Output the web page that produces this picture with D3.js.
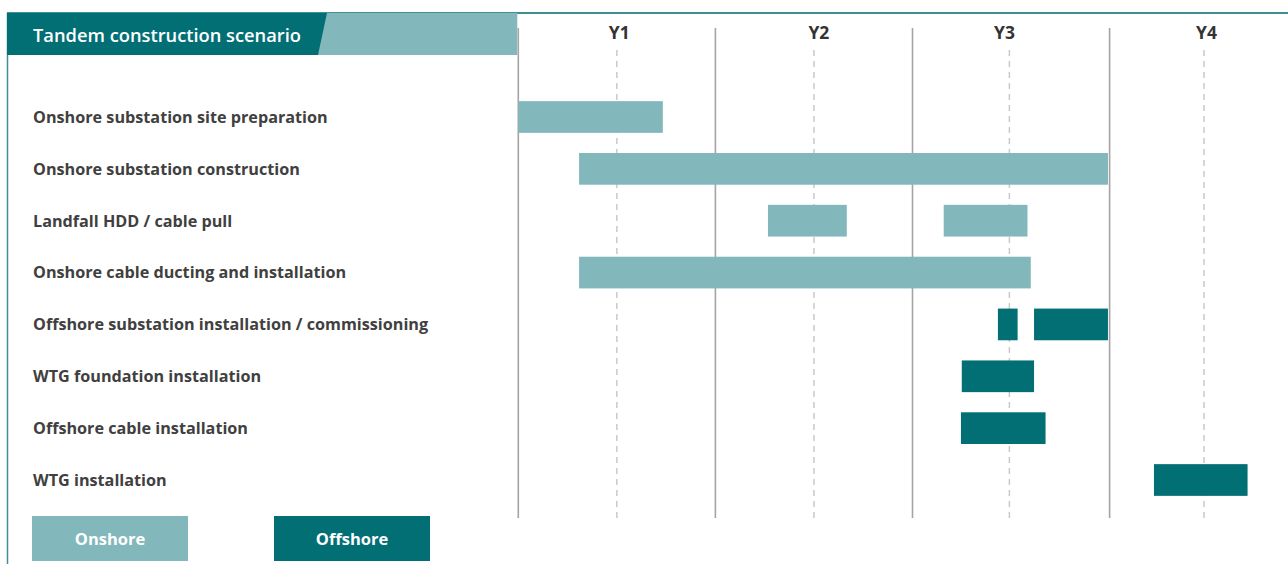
<!DOCTYPE html>
<html><head><meta charset="utf-8">
<script src="https://cdn.jsdelivr.net/npm/d3@7"></script>
<style>
html,body{margin:0;padding:0;background:#fff;}
svg{display:block;font-family:"Open Sans",Lato,sans-serif;}
</style></head>
<body><svg id="c" width="1288" height="564"></svg>
<script>
// ---- data (months from start of Y1) ----
const tasks = [
  "Onshore substation site preparation",
  "Onshore substation construction",
  "Landfall HDD / cable pull",
  "Onshore cable ducting and installation",
  "Offshore substation installation / commissioning",
  "WTG foundation installation",
  "Offshore cable installation",
  "WTG installation"
];
const types = ["Onshore","Onshore","Onshore","Onshore","Offshore","Offshore","Offshore","Offshore"];
const starts = [[0.0],[3.7],[15.2,25.9],[3.7],[29.2,31.4],[27.0],[26.95],[38.7]];
const ends   = [[8.8],[35.9],[20.0,31.0],[31.2],[30.4,35.9],[31.4],[32.1],[44.4]];
const yearLabels = ["Y1","Y2","Y3","Y4"];
const yearStarts = [0,12,24,36];
const yearLabelPos = [6.15,18.3,29.6,41.9];
const midMarks = [6.0,18.0,29.9,41.75];
const legendItems = ["Onshore","Offshore"];
const title = "Tandem construction scenario";

const colors = {Onshore:"#82b8bc", Offshore:"#016f74"};
const svg = d3.select("#c");
const x = d3.scaleLinear().domain([0,48]).range([518.3, 518.3+4*197.1]);
const y = d3.scalePoint().domain(tasks).range([117, 480]);
const barH = 31.7;

// top line & left border
svg.append("line").attr("x1",7).attr("x2",1288).attr("y1",13).attr("y2",13)
  .attr("stroke","#3f8f93").attr("stroke-width",2);
svg.append("line").attr("x1",7.5).attr("x2",7.5).attr("y1",13).attr("y2",564)
  .attr("stroke","#3f8f93").attr("stroke-width",1.5);

// header
svg.append("polygon").attr("points",`${x(0)-1},13 ${x(0)-1},55 316,55 326,13`).attr("fill",colors.Onshore);
svg.append("polygon").attr("points",`7,13 327,13 318,55 7,55`).attr("fill",colors.Offshore);
svg.append("text").attr("x",33).attr("y",41.5).attr("fill","#fff")
  .attr("font-size",18.3).attr("font-weight",600).text(title);

// year lines
svg.selectAll(".yl").data(yearStarts).enter().append("line")
  .attr("x1",d=>x(d)).attr("x2",d=>x(d)).attr("y1",28).attr("y2",518)
  .attr("stroke","#a8a1a5").attr("stroke-width",1.6);
svg.selectAll(".ml").data(midMarks).enter().append("line")
  .attr("x1",d=>x(d)).attr("x2",d=>x(d)).attr("y1",50).attr("y2",518)
  .attr("stroke","#c9c9c9").attr("stroke-width",1.5).attr("stroke-dasharray","6,5");
svg.selectAll(".ylab").data(yearLabels).enter().append("text")
  .attr("x",(d,i)=>x(yearLabelPos[i])).attr("y",38.5).attr("text-anchor","middle")
  .attr("fill","#333").attr("font-size",17.5).attr("font-weight",700).text(d=>d);

// bars
const segs = [];
tasks.forEach((t,i)=>starts[i].forEach((s,j)=>segs.push({t, type:types[i], s, e:ends[i][j]})));
svg.selectAll(".bar").data(segs).enter().append("rect")
  .attr("x",d=>x(d.s)).attr("width",d=>x(d.e)-x(d.s))
  .attr("y",d=>y(d.t)-barH/2).attr("height",barH)
  .attr("fill",d=>colors[d.type]);

// task labels
svg.selectAll(".tl").data(tasks).enter().append("text")
  .attr("x",33).attr("y",d=>y(d)).attr("dy","0.36em")
  .attr("fill","#404040").attr("font-size",16.2).attr("font-weight",700).text(d=>d);

// legend
const lx = [32,274];
const lg = svg.selectAll(".lg").data(legendItems).enter().append("g")
  .attr("transform",(d,i)=>`translate(${lx[i]},516)`);
lg.append("rect").attr("width",156).attr("height",45).attr("fill",d=>colors[d]);
lg.append("text").attr("x",78).attr("y",23).attr("dy","0.36em").attr("text-anchor","middle")
  .attr("fill","#fff").attr("font-size",16.5).attr("font-weight",700).text(d=>d);
</script></body></html>
